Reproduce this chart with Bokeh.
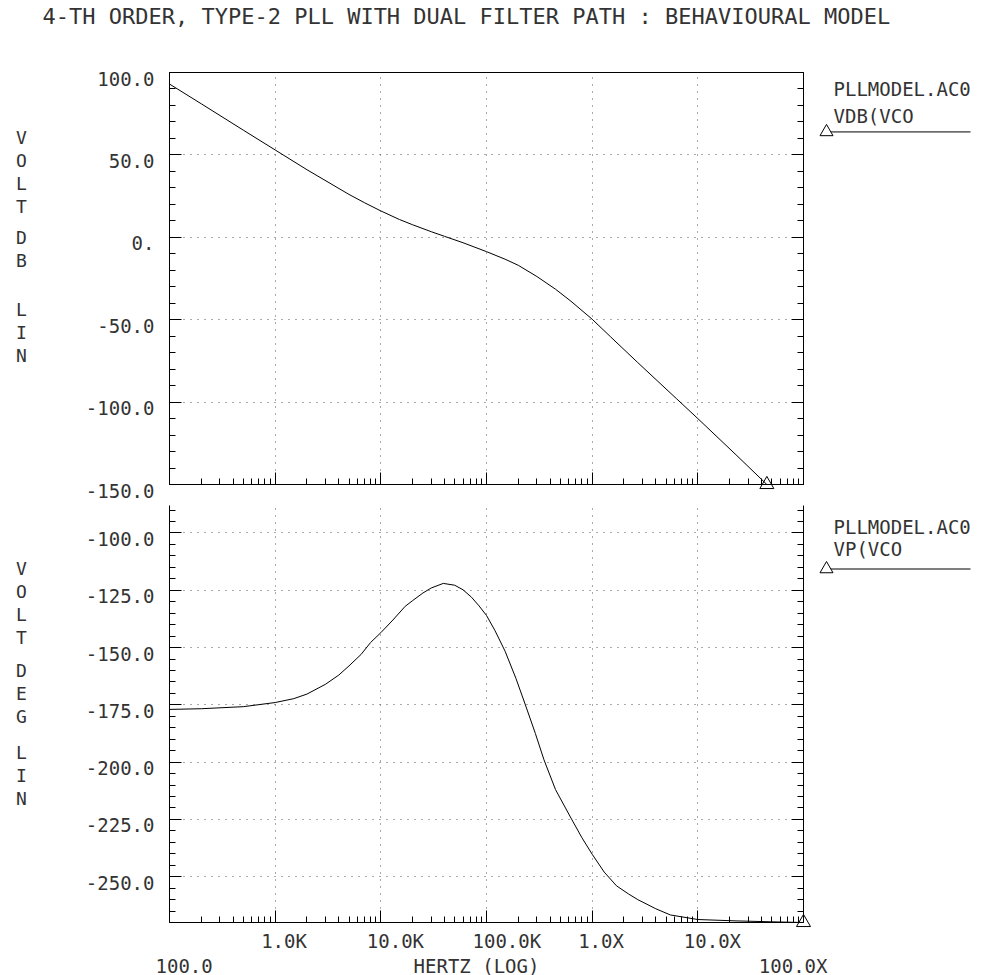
from bokeh.plotting import figure
from bokeh.models import Range1d, LinearAxis, FixedTicker
from bokeh.layouts import column
from bokeh.embed import file_html
from bokeh.resources import INLINE
from bokeh.core.properties import value

# ---------------- data ----------------
title_text = "4-TH ORDER, TYPE-2 PLL WITH DUAL FILTER PATH : BEHAVIOURAL MODEL"

freq_mag = [1e2, 2e2, 5e2, 1e3, 2e3, 5e3, 7e3, 1e4, 1.5e4, 2e4, 3e4, 4e4, 6e4,
            1e5, 1.5e5, 2e5, 3e5, 4.5e5, 6.3e5, 1e6, 1.5e6, 2.7e6, 6.3e6,
            1e7, 2.3e7, 4.5e7]
mag_db = [93, 81, 65, 53, 41, 26, 21, 16, 10.8, 7.6, 3.4, 0.6, -3.3,
          -8.7, -13.3, -17, -23.8, -31.5, -38.8, -49.7, -60.5, -76, -98,
          -110, -132, -150]

freq_ph = [1e2, 2e2, 5e2, 1e3, 1.5e3, 2e3, 3e3, 4e3, 5e3, 6.5e3, 8e3, 1e4,
           1.3e4, 1.7e4, 2e4, 2.5e4, 3e4, 3.9e4, 5e4, 6e4, 7.2e4, 8.5e4,
           1e5, 1.2e5, 1.5e5, 1.9e5, 2.3e5, 2.9e5, 3.5e5, 4.5e5, 6.3e5, 8e5,
           1e6, 1.3e6, 1.7e6, 2.2e6, 2.7e6, 4e6, 5.5e6, 1e7, 2.3e7, 5e7, 1e8]
phase_deg = [-177, -176.7, -175.8, -174, -172.3, -170.3, -166, -162, -158,
             -153, -147.8, -143.5, -138, -132, -129.5, -126.2, -124, -122,
             -122.8, -124.8, -128, -131.8, -136, -142.5, -151.6, -163.5,
             -174.2, -187.5, -199, -212, -224.4, -233, -240.2, -248, -254,
             -257.5, -260, -264, -266.7, -268.7, -269.3, -269.7, -270]

x_ticks = [1e2, 1e3, 1e4, 1e5, 1e6, 1e7, 1e8]
x_tick_labels = ["100.0", "1.0K", "10.0K", "100.0K", "1.0X", "10.0X", "100.0X"]
x_axis_label = "HERTZ (LOG)"

mag_ticks = [-150, -100, -50, 0, 50, 100]
mag_tick_labels = ["-150.0", "-100.0", "-50.0", "0.", "50.0", "100.0"]
mag_minor = list(range(-150, 101, 10))
mag_range = (-150, 100)

ph_ticks = [-250, -225, -200, -175, -150, -125, -100]
ph_tick_labels = ["-250.0", "-225.0", "-200.0", "-175.0", "-150.0", "-125.0", "-100.0"]
ph_minor = list(range(-270, -87, 5))
ph_range = (-270, -88)

top_ylabel = ["V\nO\nL\nT", "D\nB", "L\nI\nN"]
bot_ylabel = ["V\nO\nL\nT", "D\nE\nG", "L\nI\nN"]
legend_top = ["PLLMODEL.AC0", "VDB(VCO"]
legend_bot = ["PLLMODEL.AC0", "VP(VCO"]

x_minor = [m * 10 ** e for e in range(2, 8) for m in range(2, 10)]

# ---------------- styling / layout ----------------
FONT = "DejaVu Sans Mono"
INK = "#333333"
FS = "19px"
FRAME_L, FRAME_W = 169, 634
PX_PER_DEC = FRAME_W / 6.0


def style_axis(ax):
    ax.major_tick_in = 12
    ax.major_tick_out = 0
    ax.minor_tick_in = 6
    ax.minor_tick_out = 0
    ax.major_label_text_color = None
    ax.axis_line_color = "black"
    ax.major_tick_line_color = "black"
    ax.minor_tick_line_color = "black"


def make_fig(height, yr, yticks, yminor, top_b, bot_b):
    p = figure(width=998, height=height, x_axis_type="log",
               x_range=Range1d(x_ticks[0], x_ticks[-1]), y_range=Range1d(*yr),
               output_backend="svg", toolbar_location=None,
               min_border_left=FRAME_L, min_border_right=998 - FRAME_L - FRAME_W,
               min_border_top=top_b, min_border_bottom=bot_b)
    p.xaxis.ticker = FixedTicker(ticks=x_ticks, minor_ticks=x_minor)
    p.yaxis.ticker = FixedTicker(ticks=yticks, minor_ticks=yminor)
    ra = LinearAxis(ticker=FixedTicker(ticks=yticks, minor_ticks=yminor))
    p.add_layout(ra, "right")
    for ax in [p.xaxis[0], p.yaxis[0], ra]:
        style_axis(ax)
    for g in [p.xgrid[0], p.ygrid[0]]:
        g.grid_line_color = "#555555"
        g.grid_line_dash = "1 6"
        g.grid_line_width = 1
    p.background_fill_color = "white"
    p.border_fill_color = "white"
    return p


def ptext(p, xs, ys, texts, xo, yo, align="left", base="middle", size=FS, lh=1.05):
    # text glyph anchored on a data position, shifted by screen pixels;
    # drawn at overlay level so that it is not clipped to the frame
    p.text(x=xs, y=ys, text=texts, x_offset=xo, y_offset=yo,
           text_align=align, text_baseline=base, text_font=value(FONT),
           text_font_size=value(size), text_color=INK, text_line_height=lh,
           level="overlay")


def legend_sample(p, y_data):
    # legend sample: a 142 px line starting 25 px right of the frame, with a triangle
    # (one renderer, so the large dash keeps the small triangle from being culled)
    x_mid = x_ticks[-1] * 10 ** ((25 + 71) / PX_PER_DEC)
    x_tri = x_ticks[-1] * 10 ** (23 / PX_PER_DEC)
    p.scatter(x=[x_mid, x_tri], y=[y_data, y_data], marker=["dash", "triangle"],
              size=[142, 13], fill_color="white", line_color="black",
              line_width=1, level="overlay")


# ---------------- top: magnitude ----------------
p1 = make_fig(505, mag_range, mag_ticks, mag_minor, 72, 21)
p1.outline_line_color = "black"
p1.line(freq_mag, mag_db, line_color="black", line_width=1)
p1.scatter([freq_mag[-1]], [mag_db[-1]], marker="triangle", size=14,
           fill_color=None, line_color="black", level="overlay")
ytop, ybot = mag_range[1], mag_range[0]
ptext(p1, [x_ticks[0]] * len(mag_ticks), mag_ticks, mag_tick_labels, -15, 6, align="right")
ptext(p1, [x_ticks[0]], [ytop], [title_text], -127, -56, size="22px")
ptext(p1, [x_ticks[0]] * 3, [ytop] * 3, top_ylabel, -148, [54, 154, 226],
      align="center", base="top", size="18px", lh=1.1)
ptext(p1, [x_ticks[-1]] * 2, [ytop] * 2, legend_top, 30, [16, 43])
legend_sample(p1, ytop - (131.5 - 72) * (ytop - ybot) / 412.5)

# ---------------- bottom: phase ----------------
p2 = make_fig(470, ph_range, ph_ticks, ph_minor, 0, 53)
p2.outline_line_color = None
p2.line(freq_ph, phase_deg, line_color="black", line_width=1)
p2.scatter([freq_ph[-1]], [phase_deg[-1]], marker="triangle", size=14,
           fill_color=None, line_color="black", level="overlay")
ytop2, ybot2 = ph_range[1], ph_range[0]
ptext(p2, [x_ticks[0]] * len(ph_ticks), ph_ticks, ph_tick_labels, -15, 6, align="right")
ptext(p2, [x_ticks[0]] * 3, [ytop2] * 3, bot_ylabel, -148, [52, 154, 236],
      align="center", base="top", size="18px", lh=1.1)
ptext(p2, [x_ticks[-1]] * 2, [ytop2] * 2, legend_bot, 30, [21, 43])
legend_sample(p2, ytop2 - (569 - 505.5) * (ytop2 - ybot2) / 417)

ptext(p2, x_ticks[1:-1], [ybot2] * 5, x_tick_labels[1:-1], -14, 18)
ptext(p2, [x_ticks[0]], [ybot2], [x_tick_labels[0]], -14, 43)
ptext(p2, [x_ticks[-1]], [ybot2], [x_tick_labels[-1]], 24, 43, align="right")
ptext(p2, [x_ticks[3]], [ybot2], [x_axis_label], -10, 43, align="center")

layout = column(p1, p2)
open("out.html", "w").write(file_html(layout, INLINE, "PLL model"))
